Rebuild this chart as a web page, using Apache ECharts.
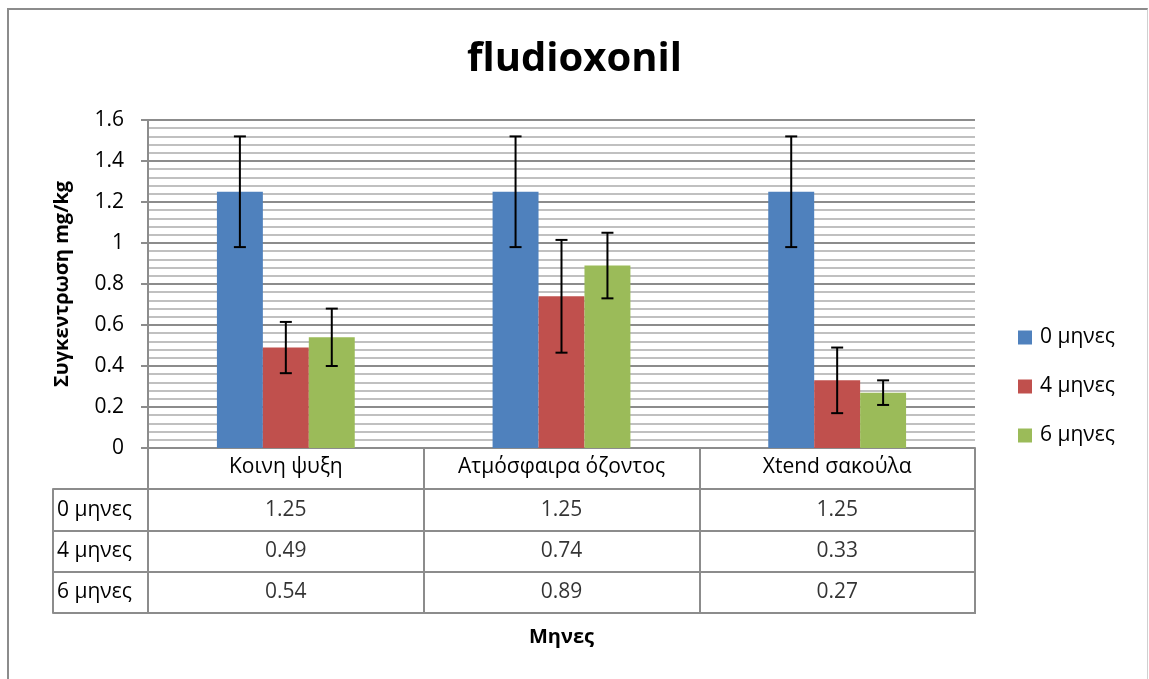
<!DOCTYPE html>
<html>
<head>
<meta charset="utf-8">
<script src="https://cdn.jsdelivr.net/npm/echarts@6/dist/echarts.min.js"></script>
<style>
  html, body { margin:0; padding:0; background:#fff; }
  #frame { position:absolute; left:7px; top:8px; width:1141px; height:700px;
           border-left:2px solid #8c8c8c; border-top:2px solid #8c8c8c; border-right:1px solid #d0d0d0; box-sizing:border-box; }
  #chart { position:absolute; left:0; top:0; width:1149px; height:679px; }
</style>
</head>
<body>
<div id="frame"></div>
<div id="chart"></div>
<script>
const titleText = 'fludioxonil';
const categories = ['Κοινη ψυξη', 'Ατμόσφαιρα όζοντος', 'Xtend σακούλα'];
const seriesNames = ['0 μηνες', '4 μηνες', '6 μηνες'];
const values0 = [1.25, 1.25, 1.25];
const values4 = [0.49, 0.74, 0.33];
const values6 = [0.54, 0.89, 0.27];
const errors0 = [0.27, 0.27, 0.27];
const errors4 = [0.125, 0.275, 0.16];
const errors6 = [0.14, 0.16, 0.06];
const yTickLabels = ['0', '0.2', '0.4', '0.6', '0.8', '1', '1.2', '1.4', '1.6'];
const yAxisTitle = 'Συγκεντρωση mg/kg';
const xAxisTitle = 'Μηνες';
const colors = ['#4F81BD', '#C0504D', '#9BBB59'];

const FONT = '"Open Sans", "Noto Sans", sans-serif';
const FS = 21;
const GRID_LINE = '#8c8c8c';

const allValues = [values0, values4, values6];
const allErrors = [errors0, errors4, errors6];

const errData = [];
const tableData = [];
allValues.forEach((vals, si) => {
  vals.forEach((v, ci) => {
    errData.push([ci, v, allErrors[si][ci], si]);
    tableData.push([ci, si, v]);
  });
});

function renderErr(params, api) {
  const ci = api.value(0), v = api.value(1), e = api.value(2), si = api.value(3);
  const band = api.size([1, 0])[0];
  const bw = band * 0.5 / 3;
  const c = api.coord([ci, v]);
  const x = c[0] + (si - 1) * bw;
  const top = api.coord([ci, v + e])[1];
  const bot = api.coord([ci, v - e])[1];
  const cap = 6;
  const st = { stroke: '#000', lineWidth: 2 };
  return {
    type: 'group',
    children: [
      { type: 'line', shape: { x1: x, y1: top, x2: x, y2: bot }, style: st },
      { type: 'line', shape: { x1: x - cap, y1: top, x2: x + cap, y2: top }, style: st },
      { type: 'line', shape: { x1: x - cap, y1: bot, x2: x + cap, y2: bot }, style: st }
    ]
  };
}

const chart = echarts.init(document.getElementById('chart'), null, { renderer: 'canvas' });
const option = {
  animation: false,
  textStyle: { fontFamily: FONT },
  title: {
    text: titleText, left: 'center', top: 35,
    textStyle: { fontFamily: FONT, fontSize: 40, fontWeight: 'bold', color: '#000' }
  },
  legend: {
    data: seriesNames, orient: 'vertical', left: 1018, top: 327, padding: 0,
    icon: 'rect', itemWidth: 14, itemHeight: 14, itemGap: 28,
    textStyle: { fontFamily: FONT, fontSize: FS, color: '#000', padding: [0, 0, 0, 3] }
  },
  grid: [
    { left: 148, right: 174, top: 120, height: 328 },
    { left: 148, right: 174, top: 489, height: 124, show: true, borderColor: GRID_LINE, borderWidth: 2, backgroundColor: 'transparent' }
  ],
  xAxis: [
    {
      type: 'category', gridIndex: 0, data: categories,
      axisLine: { show: true, lineStyle: { color: GRID_LINE, width: 2 } },
      axisTick: { show: true, length: 41, alignWithLabel: false, lineStyle: { color: GRID_LINE, width: 2 } },
      axisLabel: { fontFamily: FONT, fontSize: FS, color: '#000', margin: 9 },
      splitLine: { show: false }
    },
    {
      type: 'category', gridIndex: 1, data: categories, position: 'bottom',
      axisLine: { show: false }, axisTick: { show: false }, axisLabel: { show: false },
      splitLine: { show: true, lineStyle: { color: GRID_LINE, width: 2 } },
      name: xAxisTitle, nameLocation: 'middle', nameGap: 14,
      nameTextStyle: { fontFamily: FONT, fontSize: 20, fontWeight: 'bold', color: '#000' }
    }
  ],
  yAxis: [
    {
      type: 'value', gridIndex: 0, min: 0, max: 1.6, interval: 0.2,
      axisLine: { show: true, lineStyle: { color: GRID_LINE, width: 2 } },
      axisTick: { show: true, length: 7, lineStyle: { color: GRID_LINE, width: 2 } },
      axisLabel: {
        fontFamily: FONT, fontSize: FS, color: '#000', margin: 24,
        formatter: (val) => yTickLabels[Math.round(val / 0.2)]
      },
      splitLine: { show: true, lineStyle: { color: GRID_LINE, width: 2 } },
      minorTick: { show: false, splitNumber: 5 },
      minorSplitLine: { show: true, lineStyle: { color: '#c0c0c0', width: 2 } },
      name: yAxisTitle, nameLocation: 'middle', nameGap: 76,
      nameTextStyle: { fontFamily: FONT, fontSize: 20, fontWeight: 'bold', color: '#000' }
    },
    {
      type: 'category', gridIndex: 1, data: seriesNames, inverse: true,
      axisLine: { show: false },
      axisTick: { show: true, length: 95, alignWithLabel: false, lineStyle: { color: GRID_LINE, width: 2 } },
      axisLabel: { fontFamily: FONT, fontSize: FS, color: '#000', align: 'left', margin: 91 },
      splitLine: { show: true, lineStyle: { color: GRID_LINE, width: 2 } }
    },
    {
      type: 'category', gridIndex: 1, data: seriesNames, inverse: true, position: 'left', offset: 95,
      axisLine: { show: true, lineStyle: { color: GRID_LINE, width: 2 } },
      axisTick: { show: false }, axisLabel: { show: false }, splitLine: { show: false }
    }
  ],
  series: [
    ...allValues.map((vals, si) => ({
      name: seriesNames[si], type: 'bar', xAxisIndex: 0, yAxisIndex: 0,
      data: vals, barGap: '0%', barCategoryGap: '50%',
      itemStyle: { color: colors[si] }
    })),
    {
      type: 'custom', xAxisIndex: 0, yAxisIndex: 0, renderItem: renderErr,
      data: errData, encode: { x: 0, y: 1 }, z: 10, silent: true
    },
    {
      type: 'scatter', xAxisIndex: 1, yAxisIndex: 1, symbolSize: 0,
      data: tableData, silent: true,
      label: {
        show: true, position: 'inside', fontFamily: FONT, fontSize: FS, color: '#000',
        formatter: (p) => p.value[2].toFixed(2)
      }
    }
  ]
};
chart.setOption(option);
</script>
</body>
</html>
